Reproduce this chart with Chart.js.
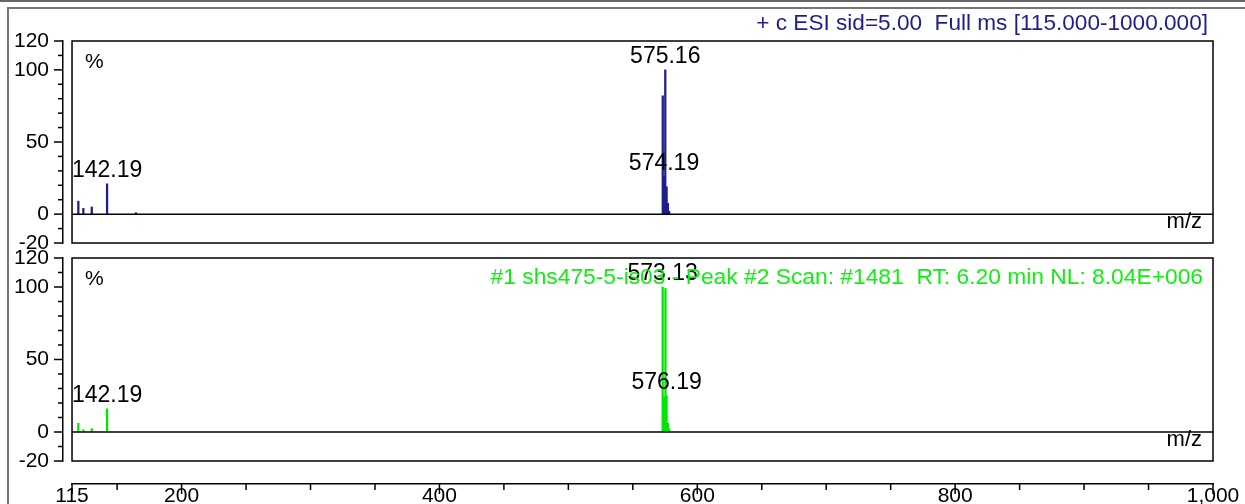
<!DOCTYPE html>
<html>
<head>
<meta charset="utf-8">
<script src="https://cdn.jsdelivr.net/npm/chart.js@4.4.1/dist/chart.umd.min.js"></script>
<style>
  body { margin: 0; background: #fff; width: 1245px; height: 504px; overflow: hidden; position: relative; }
  canvas { position: absolute; left: 0; }
  #frameTop { position: absolute; left: 0; top: 0; width: 1245px; height: 0; border-top: 2px solid #666; }
  #frame { position: absolute; left: 7px; top: 7px; width: 1250px; height: 510px; border-top: 2px solid #777; border-left: 2px solid #777; }
</style>
</head>
<body>
<div id="frameTop"></div>
<div id="frame"></div>
<canvas id="topPanel" width="1245" height="270" style="top:0px"></canvas>
<canvas id="bottomPanel" width="1245" height="258" style="top:230px"></canvas>
<canvas id="mzAxis" width="1245" height="40" style="top:464px"></canvas>
<script>
// spectrum 1 (upper, full ms) - m/z and relative abundance %
const topMz = [119.9, 123.8, 130.3, 142.19, 164.6, 573.2, 574.19, 575.16, 576.2, 577.2, 578.2];
const topAb = [9, 4, 5, 21, 1, 82, 26, 100, 19, 7.5, 2];
const topLabels = [142.19, 574.19, 575.16];

// spectrum 2 (lower, peak #2 scan)
const botMz = [119.9, 123.8, 130.3, 142.19, 573.13, 574.2, 575.3, 576.19, 577.2, 578.2];
const botAb = [6, 1.5, 2.3, 16, 100, 24, 99, 25, 6, 2];
const botLabels = [142.19, 573.13, 576.19];

// axis ticks
const yLabels = [120, 100, 50, 0, -20];
const xTicks = [115, 150, 200, 250, 300, 350, 400, 450, 500, 550, 600, 650, 700, 750, 800, 850, 900, 950, 1000];
const xLabels = [115, 200, 400, 600, 800, 1000];

const header = "+ c ESI sid=5.00  Full ms [115.000-1000.000]";
const note = "#1 shs475-5-is03 - Peak #2 Scan: #1481  RT: 6.20 min NL: 8.04E+006";

const FONT = '"Liberation Sans", Arial, sans-serif';
const navy = '#1e1e8c';
const green = '#00e600';

// draws the frame, zero line, tick marks and peak labels of one panel
const panelPlugin = {
  id: 'panel',
  afterDraw(chart, args, opts) {
    const ctx = chart.ctx;
    const x = chart.scales.x, y = chart.scales.y;
    const L = x.getPixelForValue(115), R = x.getPixelForValue(1000);
    const T = y.getPixelForValue(120), B = y.getPixelForValue(-20), Z = y.getPixelForValue(0);
    ctx.save();
    ctx.strokeStyle = '#000';
    ctx.lineWidth = 1.5;
    ctx.strokeRect(L, T, R - L, B - T);
    ctx.beginPath(); ctx.moveTo(L, Z); ctx.lineTo(R, Z); ctx.stroke();
    const ax = chart.chartArea.left;
    y.ticks.forEach(t => {
      const py = y.getPixelForValue(t.value);
      const len = yLabels.includes(t.value) ? 9 : 5;
      ctx.beginPath(); ctx.moveTo(ax - len, py); ctx.lineTo(ax, py); ctx.stroke();
    });
    ctx.fillStyle = '#000';
    ctx.font = '21px ' + FONT;
    ctx.textAlign = 'left';
    ctx.fillText('%', L + 13, T + 27);
    ctx.font = '22px ' + FONT;
    ctx.textAlign = 'right';
    ctx.fillText('m/z', R - 11, Z + 14);
    ctx.font = '23px ' + FONT;
    ctx.textAlign = 'center';
    opts.labels.forEach(m => {
      const i = opts.mz.indexOf(m);
      ctx.fillText(m.toFixed(2), x.getPixelForValue(m), y.getPixelForValue(opts.ab[i]) - 7);
    });
    if (opts.header) {
      ctx.font = '22.6px ' + FONT;
      ctx.fillStyle = navy;
      ctx.textAlign = 'right';
      ctx.fillText(opts.header, 1208, 30);
    }
    if (opts.note) {
      ctx.font = '22.8px ' + FONT;
      ctx.fillStyle = '#11ee11';
      ctx.textAlign = 'right';
      ctx.fillText(opts.note, R - 10, T + 26);
    }
    ctx.restore();
  }
};

function makePanel(id, mz, ab, color, labels, pad, extra) {
  return new Chart(document.getElementById(id), {
    type: 'bar',
    plugins: [panelPlugin],
    data: {
      datasets: [{
        data: mz.map((m, i) => ({ x: m, y: ab[i] })),
        backgroundColor: color,
        barThickness: 1.6,
      }],
    },
    options: {
      responsive: false,
      animation: false,
      layout: { padding: pad },
      scales: {
        x: { type: 'linear', min: 108, max: 1000, offset: false, display: false },
        y: {
          min: -20, max: 120,
          afterFit: (s) => { s.width = 63; },
          grid: { drawOnChartArea: false, drawTicks: false },
          border: { color: '#000', width: 1.5 },
          ticks: {
            stepSize: 10,
            autoSkip: false,
            padding: 14,
            color: '#000',
            font: { family: FONT, size: 21 },
            callback: (v) => yLabels.includes(v) ? String(v) : '',
          },
        },
      },
      plugins: {
        legend: { display: false },
        tooltip: { enabled: false },
        panel: Object.assign({ mz: mz, ab: ab, labels: labels }, extra),
      },
    },
  });
}

makePanel('topPanel', topMz, topAb, navy, topLabels, { top: 41, bottom: 27, right: 32, left: 0 }, { header: header });
makePanel('bottomPanel', botMz, botAb, green, botLabels, { top: 28, bottom: 27, right: 32, left: 0 }, { note: note });

// shared m/z axis under both panels
new Chart(document.getElementById('mzAxis'), {
  type: 'scatter',
  data: { datasets: [] },
  plugins: [{
    id: 'xticks',
    afterDraw(chart) {
      const ctx = chart.ctx, x = chart.scales.x, b = chart.chartArea.bottom;
      ctx.save();
      ctx.strokeStyle = '#000';
      ctx.lineWidth = 1.5;
      x.ticks.forEach(t => {
        const px = x.getPixelForValue(t.value);
        const len = xLabels.includes(t.value) ? 10 : 6;
        ctx.beginPath(); ctx.moveTo(px, b); ctx.lineTo(px, b + len); ctx.stroke();
      });
      ctx.restore();
    }
  }],
  options: {
    responsive: false,
    animation: false,
    layout: { padding: { left: 72, right: 32, top: 0, bottom: 0 } },
    scales: {
      x: {
        type: 'linear', min: 115, max: 1000,
        afterBuildTicks: (s) => { s.ticks = xTicks.map(v => ({ value: v })); },
        afterFit: (s) => { s.height = 20; },
        grid: { drawOnChartArea: false, drawTicks: false },
        border: { color: '#000', width: 1.5 },
        ticks: {
          autoSkip: false,
          maxRotation: 0,
          padding: 0,
          color: '#000',
          font: { family: FONT, size: 21 },
          callback: (v) => xLabels.includes(v) ? v.toLocaleString('en-US') : '',
        },
      },
      y: { display: false, min: 0, max: 1 },
    },
    plugins: { legend: { display: false }, tooltip: { enabled: false } },
  },
});
</script>
</body>
</html>
